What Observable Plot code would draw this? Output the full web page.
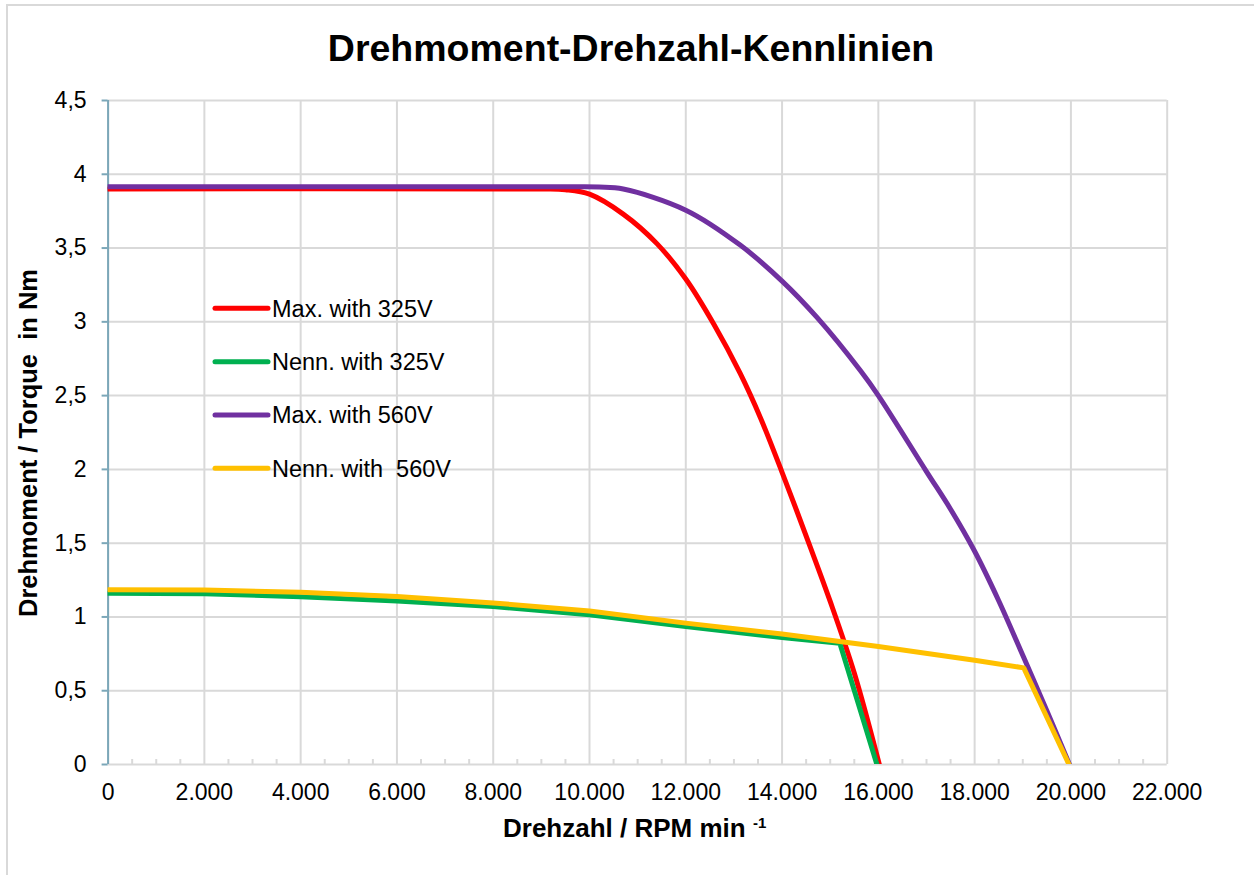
<!DOCTYPE html>
<html><head><meta charset="utf-8">
<script src="https://cdn.jsdelivr.net/npm/d3@7"></script>
<script src="https://cdn.jsdelivr.net/npm/@observablehq/plot@0.6"></script>
<style>
html,body{margin:0;padding:0;background:#fff;}
#chart{position:relative;width:1254px;height:875px;overflow:hidden;}
</style></head><body><div id="chart"></div>
<script>
// ---- data ----
const seriesNames = ["Max. with 325V", "Nenn. with 325V", "Max. with 560V", "Nenn. with  560V"];
const seriesColors = ["#ff0000", "#00b050", "#7030a0", "#ffc000"];

const rpmMax325    = [0, 9000, 9500, 10000, 10700, 11400, 12000, 12580, 13130, 13550, 14000, 14590, 15000, 15500, 16020];
const torqueMax325 = [3.90, 3.90, 3.895, 3.865, 3.73, 3.53, 3.29, 2.985, 2.65, 2.35, 1.98, 1.47, 1.105, 0.62, 0];

const rpmNenn325    = [0, 2000, 4000, 6000, 8000, 10000, 12000, 14000, 15200, 15970];
const torqueNenn325 = [1.16, 1.157, 1.137, 1.108, 1.07, 1.015, 0.935, 0.86, 0.822, 0];

const rpmMax560    = [0, 9700, 10200, 10700, 12000, 13130, 14000, 14730, 15630, 16000, 17000, 17500, 18000, 18500, 19000, 19500, 19970];
const torqueMax560 = [3.915, 3.915, 3.913, 3.90, 3.757, 3.52, 3.276, 3.028, 2.668, 2.50, 1.985, 1.73, 1.445, 1.11, 0.74, 0.365, 0];

const rpmNenn560    = [0, 2000, 4000, 6000, 8000, 10000, 12000, 14000, 16000, 18000, 19020, 19960];
const torqueNenn560 = [1.185, 1.183, 1.167, 1.138, 1.095, 1.04, 0.958, 0.885, 0.80, 0.707, 0.655, 0];

const xTicks = [0, 2000, 4000, 6000, 8000, 10000, 12000, 14000, 16000, 18000, 20000, 22000];
const yTicks = [0, 0.5, 1, 1.5, 2, 2.5, 3, 3.5, 4, 4.5];

const titleText = "Drehmoment-Drehzahl-Kennlinien";
const xLabelText = "Drehzahl / RPM min ";
const xLabelSup = "-1";
const yLabelText = "Drehmoment / Torque  in Nm";

// ---- build table ----
const rpmSets = [rpmMax325, rpmNenn325, rpmMax560, rpmNenn560];
const torqueSets = [torqueMax325, torqueNenn325, torqueMax560, torqueNenn560];
const seriesCurves = ["catmull-rom", "linear", "catmull-rom", "linear"];
const rows = [];
seriesNames.forEach((name, i) => {
  rpmSets[i].forEach((r, j) => rows.push({series: name, rpm: r, torque: torqueSets[i][j]}));
});
const xMinorTicks = d3.range(0, 22001, 500).filter(v => v % 2000 !== 0);

const de = d3.formatLocale({decimal: ",", thousands: ".", grouping: [3], currency: ["", " €"]});
const xFmt = de.format(",.0f");
const yFmt = de.format(".1~f");

const gridColor = "#d9d9d9";
const axisBlue = "#7ba7b8";
const font = "'Liberation Sans', Arial, Helvetica, sans-serif";

const lineMarks = seriesNames.map((name, i) =>
  Plot.line(rows.filter(d => d.series === name), {
    x: "rpm", y: "torque", stroke: "series", strokeWidth: 5,
    curve: seriesCurves[i], strokeLinejoin: "round", clip: true
  })
);

const plot = Plot.plot({
  width: 1254, height: 875,
  marginLeft: 107.6, marginRight: 87.3, marginTop: 100, marginBottom: 111,
  x: {domain: [0, 22000]},
  y: {domain: [0, 4.5]},
  color: {domain: seriesNames, range: seriesColors},
  style: {fontFamily: font, fontSize: "23px", color: "#000", background: "#fff"},
  marks: [
    Plot.gridX(xTicks, {stroke: gridColor, strokeOpacity: 1, strokeWidth: 2}),
    Plot.gridY(yTicks, {stroke: gridColor, strokeOpacity: 1, strokeWidth: 2}),
    Plot.axisX(xMinorTicks, {tickSize: 5, dy: -5, tickFormat: () => "", stroke: gridColor, strokeWidth: 2, label: null}),
    Plot.axisX(xTicks, {tickSize: 0, tickPadding: 19, tickFormat: xFmt, label: null, fontSize: 23, fill: "#000"}),
    Plot.ruleX([0], {stroke: axisBlue, strokeWidth: 2}),
    Plot.axisY(yTicks, {tickSize: 6, tickPadding: 15.5, tickFormat: yFmt, stroke: axisBlue, strokeWidth: 2, fill: "#000", label: null, fontSize: 23}),
    ...lineMarks
  ]
});

document.getElementById("chart").appendChild(plot);
const svg = d3.select(plot);

// outer chart frame
svg.insert("rect", ":first-child").attr("x", 7).attr("y", 5).attr("width", 1270).attr("height", 900)
  .attr("fill", "none").attr("stroke", gridColor).attr("stroke-width", 2);

// title
svg.append("text").attr("x", 631).attr("y", 61).attr("text-anchor", "middle")
  .attr("font-family", font).attr("font-weight", "bold").attr("font-size", 37.5).attr("fill", "#000")
  .text(titleText);

// x label
const xl = svg.append("text").attr("x", 503).attr("y", 837).attr("text-anchor", "start")
  .attr("font-family", font).attr("font-weight", "bold").attr("font-size", 26).attr("fill", "#000")
  .style("white-space", "pre");
xl.append("tspan").text(xLabelText);
xl.append("tspan").attr("font-size", 15).attr("dy", -9).text(xLabelSup);

// y label
svg.append("text").attr("transform", "translate(37,617) rotate(-90)").attr("text-anchor", "start")
  .attr("font-family", font).attr("font-weight", "bold").attr("font-size", 25.5).attr("fill", "#000")
  .style("white-space", "pre").text(yLabelText);

// legend
const lg = svg.append("g");
seriesNames.forEach((name, i) => {
  const yy = 308.3 + i * 53.35;
  lg.append("line").attr("x1", 215).attr("x2", 268).attr("y1", yy).attr("y2", yy)
    .attr("stroke", seriesColors[i]).attr("stroke-width", 5).attr("stroke-linecap", "round");
  lg.append("text").attr("x", 272).attr("y", yy).attr("dy", "0.35em").attr("text-anchor", "start")
    .attr("font-family", font).attr("font-size", 23.5).attr("fill", "#000")
    .style("white-space", "pre").text(name);
});
</script></body></html>
